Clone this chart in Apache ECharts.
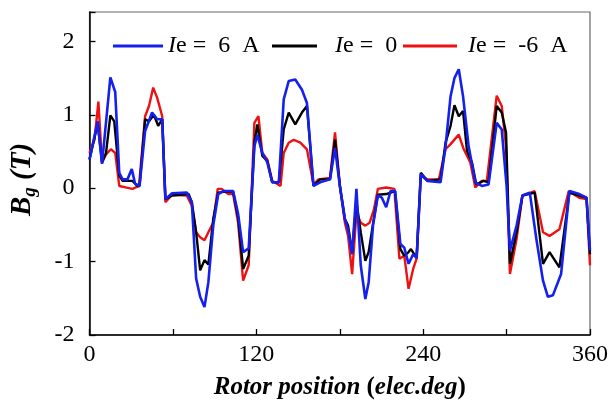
<!DOCTYPE html>
<html>
<head>
<meta charset="utf-8">
<script src="https://cdn.jsdelivr.net/npm/echarts@6/dist/echarts.min.js"></script>
<style>
  html, body { margin: 0; padding: 0; background: #fff; }
  #chart { width: 611px; height: 409px; }
</style>
</head>
<body>
<div id="chart"></div>
<script>
// ── 数据 ──
const seriesNames = ['Ie = 6 A', 'Ie = 0', 'Ie = -6 A'];

const xPos6 = [0, 5.9, 9, 15, 18.5, 21.4, 23.8, 27.3, 30.4, 32.8, 36, 40, 45, 48.7, 52.3, 54.6, 59.4, 70, 73.6, 76.7, 79.6, 82.7, 85.5, 89, 92.6, 96.2, 103.3, 106.9, 110.5, 114.5, 118.6, 120.7, 124.3, 127.9, 131.4, 136.2, 139.7, 143.3, 148, 152.8, 156.4, 161.1, 165.9, 173, 176.6, 180.1, 183.7, 186, 188.9, 192, 195.1, 198.4, 200.8, 203.9, 207.4, 210.3, 213.4, 216.5, 219.8, 223.6, 226.4, 229.5, 232.8, 235.3, 238.3, 243, 252.5, 256.1, 259.7, 262.5, 265.6, 268.7, 272.7, 277.5, 282.2, 287, 292.9, 296.5, 300, 302.4, 307.2, 311.4, 316.7, 321.4, 326.2, 329.7, 333.3, 339.2, 345.2, 352.3, 357.5, 360];
const bgPos6 = [0.39, 0.91, 0.33, 1.51, 1.31, 0.21, 0.12, 0.12, 0.26, 0.06, 0.03, 0.78, 1.03, 0.94, 0.94, -0.15, -0.07, -0.06, -0.19, -1.23, -1.48, -1.62, -1.28, -0.51, -0.08, -0.04, -0.04, -0.35, -0.87, -0.82, 0.57, 0.73, 0.48, 0.35, 0.08, 0.08, 1.21, 1.46, 1.48, 1.34, 1.16, 0.03, 0.08, 0.12, 0.55, 0.03, -0.42, -0.56, -0.9, -0.01, -1.05, -1.51, -1.28, -0.51, -0.1, -0.13, -0.26, -0.04, -0.04, -0.76, -0.81, -1.03, -0.9, -0.95, 0.19, 0.1, 0.08, 0.57, 1.25, 1.5, 1.62, 1.25, 0.57, 0.08, 0.03, 0.05, 0.89, 0.8, 0.03, -0.85, -0.51, -0.1, -0.06, -0.69, -1.26, -1.48, -1.46, -1.17, -0.04, -0.08, -0.13, -0.85];

const xZero = [0, 5.9, 9, 11.9, 15, 17.8, 21.4, 23.8, 30.9, 34.4, 36, 40, 42.8, 46.3, 49.4, 52.3, 54.6, 59.4, 71.3, 73.6, 76.7, 79.6, 82.7, 85.5, 89, 92.6, 96.2, 103.3, 106.9, 110.5, 114.5, 118.6, 120.7, 124.3, 127.9, 131.4, 136.2, 139.7, 143.3, 148, 152.8, 156.4, 161.1, 165.9, 173, 176.6, 180.1, 183.7, 186, 188.9, 192, 195.1, 198.4, 200.8, 203.9, 207.4, 213.4, 219.8, 223.6, 226.4, 229.5, 231.2, 235.3, 238.3, 243, 252.5, 256.1, 259.7, 262.5, 265.6, 268.7, 271.5, 275.1, 278.2, 283.4, 287, 292.9, 296.5, 299.6, 302.4, 307.2, 311.4, 320.2, 326.2, 330.9, 338, 345.2, 352.3, 357.5, 360];
const bgZero = [0.39, 0.88, 0.35, 0.48, 0.99, 0.91, 0.17, 0.1, 0.1, 0.03, 0.03, 0.94, 0.91, 1.0, 0.85, 0.94, -0.15, -0.1, -0.08, -0.19, -0.6, -1.12, -0.98, -1.04, -0.42, -0.06, -0.05, -0.05, -0.4, -1.1, -0.92, 0.62, 0.87, 0.44, 0.37, 0.08, 0.08, 0.8, 1.03, 0.87, 1.03, 1.12, 0.03, 0.12, 0.12, 0.66, 0.03, -0.42, -0.51, -0.87, -0.19, -0.6, -0.99, -0.87, -0.49, -0.09, -0.08, -0.04, -0.83, -0.92, -0.87, -0.83, -0.95, 0.21, 0.1, 0.12, 0.62, 0.85, 1.13, 0.98, 1.05, 0.51, 0.35, 0.05, 0.1, 0.08, 1.12, 1.03, 0.76, -1.03, -0.6, -0.1, -0.06, -1.03, -0.87, -1.08, -0.06, -0.1, -0.13, -0.9];

const xNeg6 = [0, 3.6, 6.4, 9, 11.9, 15.4, 18.5, 21.4, 26, 30.9, 35.6, 40, 42.8, 45.8, 48.7, 52.3, 54.6, 59.4, 70, 73.6, 76.7, 79.6, 82.7, 85.5, 89, 92.2, 95, 99.8, 103.3, 106.9, 110.5, 114.5, 118.6, 121.5, 124.3, 127.9, 131.4, 137.4, 139.7, 143.3, 146.9, 151.6, 156.4, 161.1, 164.7, 173, 176.6, 180.1, 183.7, 186, 188.9, 192, 195.1, 198.4, 201.5, 204.6, 207.4, 213.4, 219.3, 222.9, 226.4, 229.5, 232.8, 235.3, 238.3, 243, 251.3, 256.1, 259.7, 265.6, 269.2, 273.9, 277.5, 282.2, 285.8, 292.9, 296.5, 299.6, 302.4, 307.2, 311.4, 320.2, 326.2, 330.9, 338, 344.7, 352.3, 357.5, 360];
const bgNeg6 = [0.48, 0.66, 1.18, 0.35, 0.46, 0.53, 0.48, 0.03, 0.01, -0.01, 0.03, 0.98, 1.12, 1.37, 1.23, 0.98, -0.19, -0.09, -0.1, -0.24, -0.6, -0.67, -0.71, -0.6, -0.47, -0.01, -0.01, -0.08, -0.08, -0.47, -1.26, -1.05, 0.89, 0.98, 0.48, 0.39, 0.1, 0.03, 0.48, 0.62, 0.66, 0.62, 0.53, 0.05, 0.12, 0.14, 0.76, 0.03, -0.47, -0.65, -1.17, -0.33, -0.47, -0.51, -0.47, -0.29, -0.01, 0.01, -0.01, -0.96, -0.92, -1.37, -1.1, -0.96, 0.17, 0.12, 0.12, 0.53, 0.6, 0.73, 0.53, 0.35, 0.01, 0.1, 0.1, 1.26, 1.12, 0.57, -1.17, -0.69, -0.1, -0.04, -0.6, -0.65, -0.56, -0.04, -0.13, -0.15, -1.05];

const xTickLabels = [0, 120, 240, 360];
const yTickLabels = [-2, -1, 0, 1, 2];

// ── 样式 ──
const FONT = 'Liberation Serif';
const colors = ['#1420ee', '#000000', '#ee1111'];
const zip = (xs, ys) => xs.map((x, i) => [x, ys[i]]);

// ── 图例：三个独立组件，逐个定位 ──
const legendPos = [
  { left: 113, itemWidth: 50, pad: 0 },
  { left: 272, itemWidth: 45, pad: 13 },
  { left: 403, itemWidth: 54, pad: 6 }
];
const legends = seriesNames.map((name, k) => ({
  data: [name], left: legendPos[k].left, top: 34,
  itemWidth: legendPos[k].itemWidth, itemHeight: 3, icon: 'rect', padding: 0,
  formatter: n => {
    const body = n.slice(1).replace('= ', '=  ').replace(/ A$/, '  A');
    return (legendPos[k].pad ? '{g| }' : '') + '{i|I}{n|' + body + '}';
  },
  textStyle: {
    fontFamily: FONT, fontSize: 24, color: '#000',
    rich: {
      g: { width: legendPos[k].pad, fontSize: 24 },
      i: { fontFamily: FONT, fontSize: 24, fontStyle: 'italic', color: '#000' },
      n: { fontFamily: FONT, fontSize: 24, color: '#000' }
    }
  }
}));

const chart = echarts.init(document.getElementById('chart'));
chart.setOption({
  animation: false,
  backgroundColor: '#fff',
  textStyle: { fontFamily: FONT },
  grid: { left: 89, right: 14, top: 12, bottom: 74, show: true, borderColor: '#666', borderWidth: 1.2 },
  legend: legends,
  xAxis: {
    type: 'value', min: 0, max: 360, interval: 60,
    name: '{b|Rotor position }{p|(}{b|elec.deg}{p|)}', nameLocation: 'middle', nameGap: 40,
    nameTextStyle: {
      rich: {
        b: { fontFamily: FONT, fontSize: 25, fontWeight: 'bold', fontStyle: 'italic', color: '#000' },
        p: { fontFamily: FONT, fontSize: 25, fontWeight: 'bold', color: '#000' }
      }
    },
    axisLine: { onZero: false, lineStyle: { color: '#000', width: 1.5 } },
    axisTick: { inside: true, length: 6, lineStyle: { color: '#000', width: 1.3 } },
    axisLabel: {
      fontFamily: FONT, fontSize: 24, color: '#000', margin: 8,
      formatter: v => xTickLabels.includes(v) ? String(v) : ''
    },
    splitLine: { show: false }
  },
  yAxis: {
    type: 'value', min: -2, max: 2.4, interval: 1,
    name: '{b|B}{s|g}{b| (T)}{e| }', nameLocation: 'middle', nameGap: 50, nameRotate: 90,
    nameTextStyle: {
      rich: {
        b: { fontFamily: FONT, fontSize: 29, fontWeight: 'bold', fontStyle: 'italic', color: '#000', lineHeight: 34 },
        s: { fontFamily: FONT, fontSize: 19, fontWeight: 'bold', fontStyle: 'italic', color: '#000', lineHeight: 34, verticalAlign: 'bottom', padding: [12, 0, 0, 0] },
        e: { width: 12, fontSize: 10 }
      }
    },
    axisLine: { onZero: false, lineStyle: { color: '#000', width: 1.5 } },
    axisTick: { inside: true, length: 6, lineStyle: { color: '#000', width: 1.3 } },
    axisLabel: {
      fontFamily: FONT, fontSize: 24, color: '#000', margin: 15,
      formatter: v => yTickLabels.includes(v) ? String(v) : ''
    },
    splitLine: { show: false }
  },
  series: [
    { name: seriesNames[0], type: 'line', data: zip(xPos6, bgPos6), z: 4, symbol: 'none',
      lineStyle: { width: 2.6, color: colors[0] }, itemStyle: { color: colors[0] } },
    { name: seriesNames[1], type: 'line', data: zip(xZero, bgZero), z: 3, symbol: 'none',
      lineStyle: { width: 2.4, color: colors[1] }, itemStyle: { color: colors[1] } },
    { name: seriesNames[2], type: 'line', data: zip(xNeg6, bgNeg6), z: 2, symbol: 'none',
      lineStyle: { width: 2.4, color: colors[2] }, itemStyle: { color: colors[2] } }
  ]
});
</script>
</body>
</html>
